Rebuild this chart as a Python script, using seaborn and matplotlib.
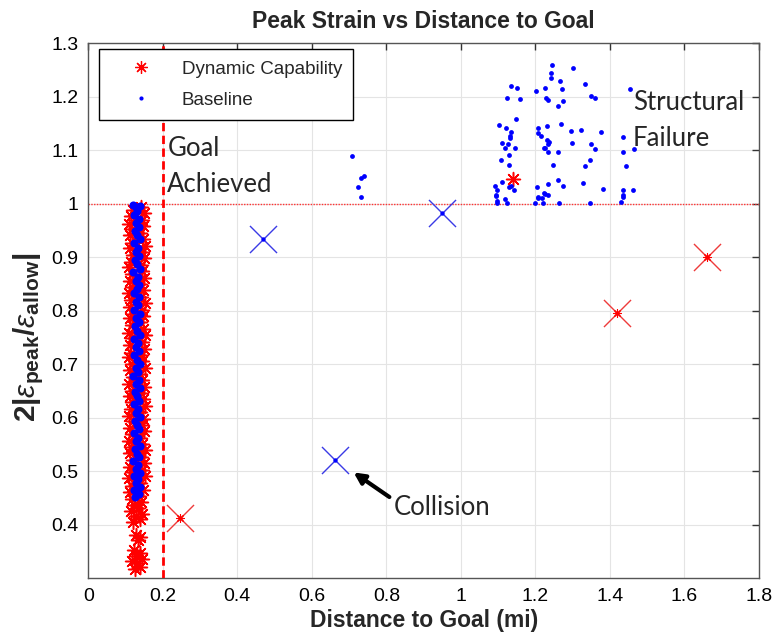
import matplotlib
matplotlib.use("Agg")
import matplotlib.pyplot as plt
from matplotlib.lines import Line2D
import seaborn as sns
import pandas as pd

# ---------------- data ----------------
# Dynamic Capability cluster near the goal (x, y)
red_cluster_x = [0.125, 0.140, 0.132, 0.118, 0.145, 0.128, 0.138, 0.122,
                 0.133, 0.140, 0.127,
                 0.120, 0.138, 0.128, 0.145, 0.115, 0.133, 0.124, 0.142, 0.118, 0.136,
                 0.112, 0.118, 0.110, 0.116, 0.113, 0.119, 0.111, 0.115, 0.109, 0.117,
                 0.112, 0.120, 0.110, 0.114, 0.118, 0.111, 0.116, 0.109, 0.119, 0.113,
                 0.117, 0.110, 0.115, 0.112, 0.118, 0.110, 0.116, 0.113, 0.119, 0.111,
                 0.115, 0.109, 0.117, 0.112, 0.118, 0.110, 0.114, 0.119, 0.111, 0.116,
                 0.113, 0.118, 0.110, 0.115, 0.119,
                 0.146, 0.140, 0.151, 0.143, 0.149, 0.141, 0.152, 0.145, 0.139, 0.150,
                 0.144, 0.148, 0.140, 0.153, 0.146, 0.142, 0.150, 0.144, 0.139, 0.151,
                 0.145, 0.141, 0.149, 0.143, 0.152, 0.146, 0.140, 0.148, 0.144, 0.151,
                 0.142, 0.147, 0.140, 0.150, 0.145, 0.141, 0.149, 0.143, 0.152, 0.146,
                 0.140, 0.148, 0.144, 0.150, 0.142,
                 0.130, 0.128, 0.132, 0.127, 0.131, 0.129, 0.133, 0.128]
red_cluster_y = [0.318, 0.322, 0.328, 0.333, 0.336, 0.342, 0.347, 0.352,
                 0.372, 0.378, 0.381,
                 0.405, 0.410, 0.416, 0.421, 0.426, 0.431, 0.437, 0.442, 0.448, 0.453,
                 0.461, 0.473, 0.487, 0.498, 0.509, 0.522, 0.534, 0.546, 0.557, 0.569,
                 0.581, 0.594, 0.603, 0.617, 0.629, 0.641, 0.650, 0.663, 0.677, 0.689,
                 0.701, 0.713, 0.722, 0.737, 0.749, 0.759, 0.773, 0.786, 0.795, 0.807,
                 0.821, 0.833, 0.845, 0.855, 0.869, 0.881, 0.891, 0.905, 0.917, 0.927,
                 0.941, 0.953, 0.962, 0.977, 0.989,
                 0.466, 0.479, 0.491, 0.503, 0.515, 0.527, 0.539, 0.551, 0.562, 0.575,
                 0.587, 0.598, 0.611, 0.622, 0.635, 0.646, 0.657, 0.670, 0.682, 0.694,
                 0.706, 0.718, 0.729, 0.742, 0.754, 0.766, 0.779, 0.790, 0.801, 0.814,
                 0.826, 0.838, 0.850, 0.862, 0.874, 0.886, 0.898, 0.910, 0.922, 0.934,
                 0.946, 0.958, 0.970, 0.982, 0.994,
                 0.478, 0.545, 0.612, 0.690, 0.760, 0.835, 0.905, 0.970]
# Dynamic Capability outlier above the failure line
red_far_x = [1.141]
red_far_y = [1.047]

# Baseline cluster near the goal
blue_cluster_x = [0.125, 0.135, 0.122, 0.138, 0.129, 0.133, 0.124, 0.140, 0.128, 0.134,
                  0.121, 0.137, 0.130, 0.125, 0.139, 0.127, 0.134, 0.122, 0.136, 0.130,
                  0.126, 0.138, 0.129, 0.133, 0.123, 0.137, 0.131, 0.126, 0.140, 0.128,
                  0.135, 0.121, 0.133, 0.127, 0.139, 0.130, 0.124, 0.136, 0.129, 0.134,
                  0.122, 0.138, 0.131, 0.126, 0.135, 0.128, 0.140, 0.124, 0.133, 0.129,
                  0.137, 0.123, 0.131, 0.136, 0.127, 0.134, 0.121, 0.139, 0.130, 0.125,
                  0.136, 0.128, 0.133, 0.122, 0.138, 0.130, 0.126, 0.135, 0.129, 0.137,
                  0.124, 0.132, 0.127, 0.139, 0.120]
blue_cluster_y = [0.452, 0.458, 0.466, 0.471, 0.478, 0.486, 0.491, 0.497, 0.505, 0.512,
                  0.519, 0.526, 0.533, 0.541, 0.548, 0.556, 0.563, 0.571, 0.579, 0.586,
                  0.594, 0.601, 0.609, 0.617, 0.625, 0.632, 0.640, 0.648, 0.655, 0.663,
                  0.671, 0.678, 0.686, 0.694, 0.701, 0.709, 0.717, 0.724, 0.732, 0.740,
                  0.748, 0.755, 0.763, 0.771, 0.779, 0.786, 0.794, 0.802, 0.810, 0.817,
                  0.825, 0.833, 0.841, 0.848, 0.856, 0.864, 0.872, 0.879, 0.887, 0.895,
                  0.903, 0.910, 0.918, 0.926, 0.934, 0.941, 0.949, 0.957, 0.965, 0.972,
                  0.980, 0.987, 0.994, 0.996, 0.998]
# Baseline points beyond the structural limit
blue_far_x = [0.707, 0.731, 0.741, 0.725, 0.732,
              1.244, 1.300, 1.243, 1.243, 1.265, 1.135, 1.151, 1.226, 1.332, 1.201,
              1.272, 1.453, 1.125, 1.158, 1.229, 1.233, 1.273, 1.348, 1.361, 1.261,
              1.148, 1.102, 1.122, 1.135, 1.131, 1.132, 1.207, 1.231, 1.207, 1.216,
              1.268, 1.296, 1.323, 1.377, 1.435, 1.110, 1.127, 1.118, 1.145, 1.232,
              1.237, 1.234, 1.226, 1.222, 1.261, 1.297, 1.348, 1.360, 1.435, 1.464,
              1.234, 1.130, 1.108, 1.128, 1.247, 1.347, 1.332, 1.444, 1.110, 1.091,
              1.130, 1.134, 1.142, 1.098, 1.260, 1.233, 1.275, 1.204, 1.327, 1.380,
              1.436, 1.462, 1.094, 1.095, 1.117, 1.123, 1.096, 1.097, 1.224, 1.226,
              1.235, 1.206, 1.208, 1.218, 1.199, 1.220, 1.263, 1.346, 1.436, 1.435,
              1.429]
blue_far_y = [1.089, 1.049, 1.052, 1.032, 1.012,
              1.259, 1.254, 1.245, 1.235, 1.229, 1.221, 1.217, 1.217, 1.224, 1.211,
              1.214, 1.214, 1.197, 1.196, 1.197, 1.195, 1.193, 1.201, 1.197, 1.182,
              1.159, 1.147, 1.141, 1.135, 1.127, 1.123, 1.142, 1.145, 1.132, 1.127,
              1.150, 1.137, 1.138, 1.135, 1.125, 1.114, 1.111, 1.104, 1.104, 1.120,
              1.116, 1.112, 1.105, 1.104, 1.097, 1.114, 1.111, 1.102, 1.097, 1.102,
              1.096, 1.092, 1.082, 1.073, 1.073, 1.082, 1.070, 1.071, 1.041, 1.034,
              1.032, 1.034, 1.026, 1.026, 1.045, 1.037, 1.034, 1.032, 1.039, 1.027,
              1.026, 1.025, 1.017, 1.014, 1.009, 1.002, 1.006, 1.001, 1.020, 1.018,
              1.016, 1.013, 1.011, 1.010, 1.002, 1.002, 1.001, 1.002, 1.016, 1.012,
              1.003]

# Highlighted cases (large X markers)
blue_cases_x = [0.469, 0.949, 0.663]
blue_cases_y = [0.935, 0.982, 0.521]
red_cases_x = [0.245, 1.418, 1.660]
red_cases_y = [0.413, 0.796, 0.900]

goal_distance = 0.2
failure_level = 1.0

x_ticks = [0, 0.2, 0.4, 0.6, 0.8, 1.0, 1.2, 1.4, 1.6, 1.8]
x_tick_labels = ["0", "0.2", "0.4", "0.6", "0.8", "1", "1.2", "1.4", "1.6", "1.8"]
y_ticks = [0.4, 0.5, 0.6, 0.7, 0.8, 0.9, 1.0, 1.1, 1.2, 1.3]
y_tick_labels = ["0.4", "0.5", "0.6", "0.7", "0.8", "0.9", "1", "1.1", "1.2", "1.3"]

# ---------------- style ----------------
sns.set_theme(style="white")
plt.rcParams["font.family"] = ["Liberation Sans", "DejaVu Sans"]
plt.rcParams["mathtext.fontset"] = "custom"
plt.rcParams["mathtext.rm"] = "Liberation Sans"
plt.rcParams["mathtext.bf"] = "Liberation Sans:bold"
plt.rcParams["mathtext.it"] = "Liberation Sans:italic"

fig = plt.figure(figsize=(7.73, 6.43), dpi=100)
ax = fig.add_axes([0.1142, 0.1006, 0.8677, 0.832])

RED = "#ff0000"
BLUE = "#0000ff"
ASTER = (8, 2, 0)

ax.grid(True, color="#e4e4e4", linewidth=0.8, zorder=0)
ax.set_axisbelow(True)

# reference lines
ax.axhline(failure_level, color="#ff3333", linestyle=(0, (1, 1)), linewidth=1.0, zorder=1)
ax.axvline(goal_distance, color=RED, linewidth=2.0, dashes=(3, 1.6), zorder=5)

df_red = pd.DataFrame({"x": red_cluster_x + red_far_x, "y": red_cluster_y + red_far_y})
df_blue_c = pd.DataFrame({"x": blue_cluster_x, "y": blue_cluster_y})
df_blue_f = pd.DataFrame({"x": blue_far_x, "y": blue_far_y})

sns.scatterplot(data=df_red, x="x", y="y", ax=ax, marker=ASTER, s=100,
                color=RED, linewidth=1.1, zorder=3, legend=False)
sns.scatterplot(data=df_blue_c, x="x", y="y", ax=ax, marker="o", s=34,
                color=BLUE, linewidth=0, zorder=4, legend=False)
sns.scatterplot(data=df_blue_f, x="x", y="y", ax=ax, marker="o", s=12,
                color=BLUE, linewidth=0, zorder=4, legend=False)

# highlighted cases
df_bc = pd.DataFrame({"x": blue_cases_x, "y": blue_cases_y})
df_rc = pd.DataFrame({"x": red_cases_x, "y": red_cases_y})
sns.scatterplot(data=df_bc, x="x", y="y", ax=ax, marker="x", s=380,
                color="#3a3ae6", linewidth=1.0, zorder=4, legend=False)
sns.scatterplot(data=df_bc, x="x", y="y", ax=ax, marker="o", s=10,
                color=BLUE, linewidth=0, zorder=5, legend=False)
sns.scatterplot(data=df_rc, x="x", y="y", ax=ax, marker="x", s=380,
                color="#ee3b3b", linewidth=1.0, zorder=4, legend=False)
sns.scatterplot(data=df_rc, x="x", y="y", ax=ax, marker=ASTER, s=30,
                color=RED, linewidth=0.8, zorder=5, legend=False)

# annotations
ann_font = ["Lato", "DejaVu Sans"]
ax.text(0.212, 1.103, "Goal", fontsize=18.5, family=ann_font, va="center", ha="left", zorder=6)
ax.text(0.212, 1.037, "Achieved", fontsize=18.5, family=ann_font, va="center", ha="left", zorder=6)
ax.text(1.462, 1.190, "Structural", fontsize=18.5, family=ann_font, va="center", ha="left", zorder=6)
ax.text(1.462, 1.122, "Failure", fontsize=18.5, family=ann_font, va="center", ha="left", zorder=6)
ax.text(0.820, 0.433, "Collision", fontsize=18.5, family=ann_font, va="center", ha="left", zorder=6)
ax.annotate("", xy=(0.712, 0.498), xytext=(0.808, 0.452),
            arrowprops=dict(arrowstyle="-|>", color="black", lw=3.0,
                            mutation_scale=16, shrinkA=0, shrinkB=0), zorder=6)

# axes formatting
ax.set_xlim(0, 1.8)
ax.set_ylim(0.3, 1.3)
ax.set_xticks(x_ticks)
ax.set_xticklabels(x_tick_labels)
ax.set_yticks(y_ticks)
ax.set_yticklabels(y_tick_labels)
ax.tick_params(direction="in", length=5, width=1, top=True, right=True,
               labelsize=14, colors="#333333", labelcolor="black", pad=7)
for sp in ax.spines.values():
    sp.set_color("#555555")
    sp.set_linewidth(1.0)

ax.set_title("Peak Strain vs Distance to Goal", fontsize=16.5, fontweight="bold", pad=11)
ax.set_xlabel("Distance to Goal (mi)", fontsize=16.5, fontweight="bold", labelpad=3)
ax.set_ylabel(r"$\mathbf{2|}\varepsilon_{\mathbf{peak}}\mathbf{/}\varepsilon_{\mathbf{allow}}\mathbf{|}$",
              fontsize=21.5)
ax.yaxis.set_label_coords(-0.063, 0.45)

handles = [
    Line2D([], [], linestyle="none", marker=ASTER, markersize=9, color=RED,
           markeredgewidth=0.9, label="Dynamic Capability"),
    Line2D([], [], linestyle="none", marker="o", markersize=3, color=BLUE,
           markeredgewidth=0, label="Baseline"),
]
leg = ax.legend(handles=handles, loc="upper left", bbox_to_anchor=(0.016, 0.989),
                borderaxespad=0, fontsize=13.5, frameon=True, fancybox=False,
                framealpha=1, edgecolor="black", borderpad=0.6, handlelength=3.3,
                handletextpad=0.5, labelspacing=0.75)
leg.get_frame().set_linewidth(1.0)
leg.set_zorder(10)

fig.savefig("out.png", dpi=100)
